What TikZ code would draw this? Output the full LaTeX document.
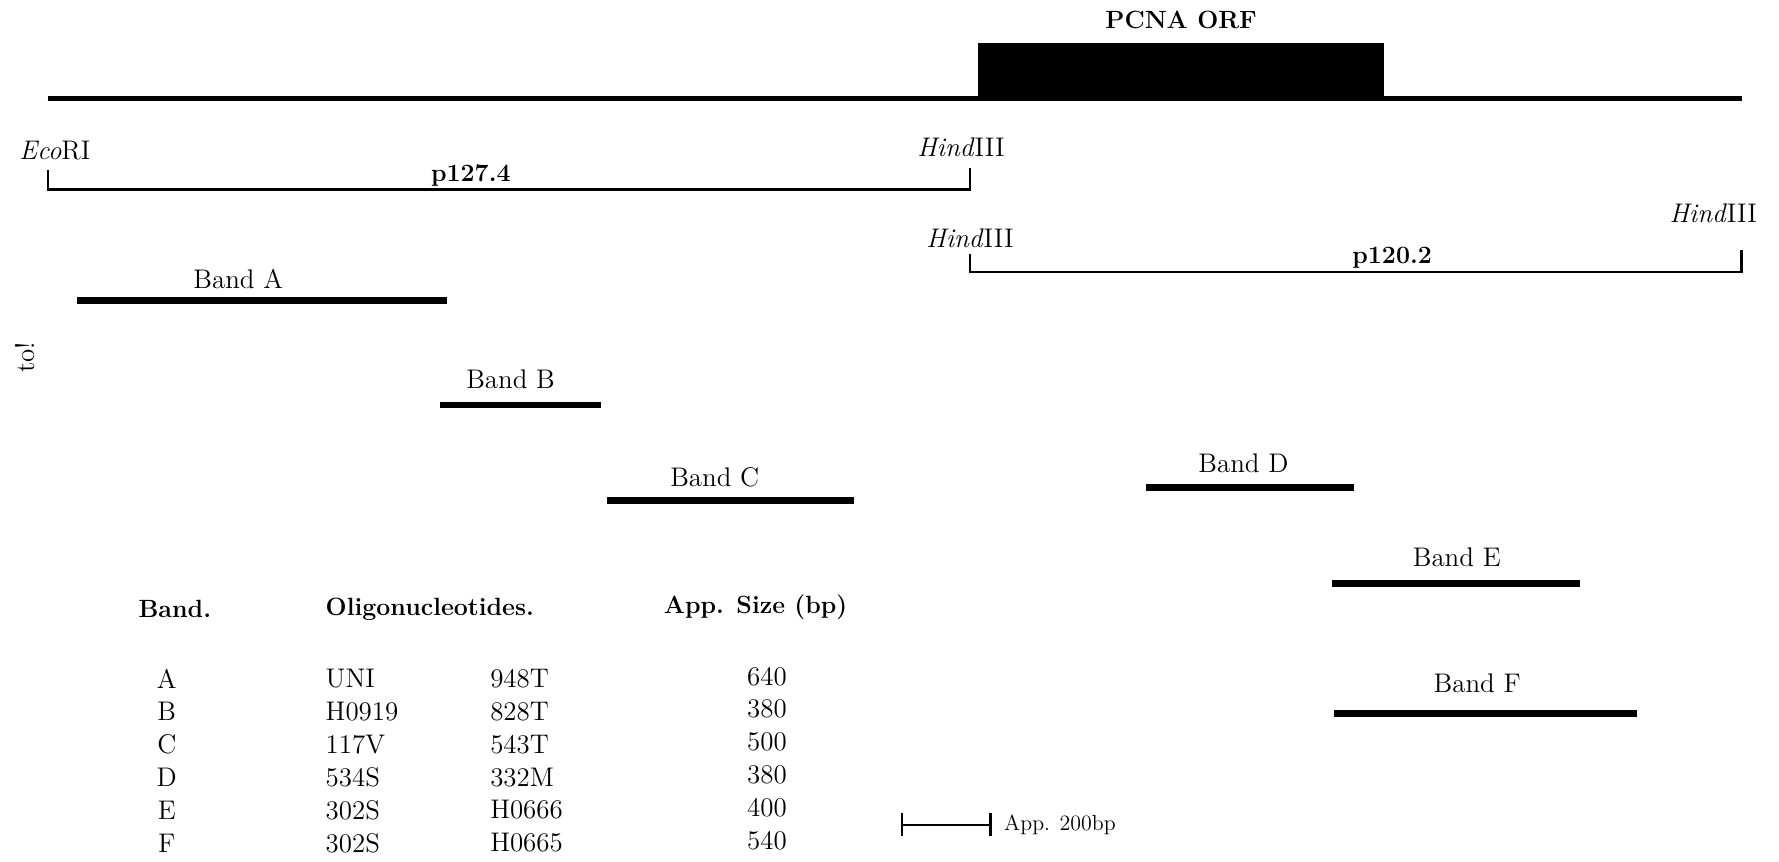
\documentclass[tikz,border=0pt]{standalone}
\usetikzlibrary{positioning}

\newcommand{\hindsite}{\textit{Hind}III}
\newcommand{\ecosite}{\textit{Eco}RI}

\begin{document}
\begin{tikzpicture}[
  txt/.style={font=\fontsize{13.5}{16}\selectfont, inner sep=1pt},
  hdr/.style={font=\fontsize{12.5}{15}\selectfont\bfseries, inner sep=1pt},
  small/.style={font=\fontsize{11}{13}\selectfont, inner sep=1pt},
  dna/.style={line width=2.8pt},
  frag/.style={line width=1.1pt},
  bandline/.style={line width=3.4pt},
]
\useasboundingbox (0,0) rectangle (31.36,15.18);

% genomic map and ORF
\draw[dna] (0.84,13.44) -- (30.70,13.44);
\fill (17.24,13.40) rectangle (24.40,14.42);
\node[hdr] (orf) at (20.82,14.82) {PCNA ORF};

% clone p127.4
\draw[frag] (0.84,12.18) -- (0.84,11.84) -- (17.10,11.84) -- (17.10,12.22);
\node[txt, anchor=west] (eco) at (0.30,12.52) {\ecosite};
\node[txt] (hindA) at (16.94,12.58) {\hindsite};
\node[hdr, anchor=south] (p127) at (8.30,11.86) {p127.4};

% clone p120.2
\draw[frag] (17.10,10.70) -- (17.10,10.38) -- (30.70,10.38) -- (30.70,10.78);
\node[txt] (hindB) at (17.10,10.98) {\hindsite};
\node[txt] (hindC) at (30.20,11.42) {\hindsite};
\node[hdr, anchor=south] (p120) at (24.54,10.40) {p120.2};

% PCR bands
\draw[bandline] (1.36,9.88) -- (7.88,9.88);
\node[txt] (bandA) at (4.20,10.26) {Band A};
\draw[bandline] (7.76,8.04) -- (10.60,8.04);
\node[txt] (bandB) at (9.00,8.50) {Band B};
\draw[bandline] (10.70,6.36) -- (15.06,6.36);
\node[txt] (bandC) at (12.60,6.76) {Band C};
\draw[bandline] (20.20,6.58) -- (23.86,6.58);
\node[txt] (bandD) at (21.92,7.02) {Band D};
\draw[bandline] (23.48,4.90) -- (27.86,4.90);
\node[txt] (bandE) at (25.68,5.36) {Band E};
\draw[bandline] (23.52,2.60) -- (28.86,2.60);
\node[txt] (bandF) at (26.04,3.14) {Band F};

\node[txt, rotate=90] (mark) at (0.44,8.88) {to!};

% table
\node[hdr, anchor=west] (hband) at (2.40,4.44) {Band.};
\node[hdr, anchor=west] (holigo) at (5.70,4.44) {Oligonucleotides.};
\node[hdr, anchor=west] (hsize) at (11.66,4.48) {App. Size (bp)};
\foreach \b/\p/\q/\s [count=\i from 0] in
  {A/UNI/948T/640, B/H0919/828T/380, C/117V/543T/500,
   D/534S/332M/380, E/302S/H0666/400, F/302S/H0665/540} {
  \node[txt] (r\b) at (2.94,3.22-0.58*\i) {\b};
  \node[txt, anchor=west] (o\b) at (5.70,3.22-0.58*\i) {\p};
  \node[txt, anchor=west] (t\b) at (8.60,3.22-0.58*\i) {\q};
  \node[txt] (s\b) at (13.52,3.26-0.58*\i) {\s};
}

% scale bar
\coordinate (barL) at (15.90,0.64);
\coordinate (barR) at (17.46,0.64);
\draw[frag] (barL) -- (barR);
\draw[frag] ([yshift=0.2cm]barL) -- ([yshift=-0.2cm]barL);
\draw[frag] ([yshift=0.2cm]barR) -- ([yshift=-0.2cm]barR);
\node[small, right=0.2 of barR] (scale) {App. 200bp};
\end{tikzpicture}
\end{document}
